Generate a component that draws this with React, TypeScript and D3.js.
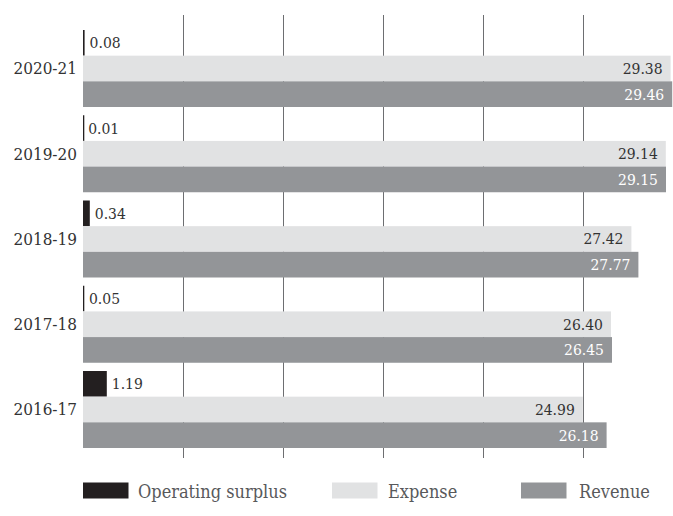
import React from "react";
import * as d3 from "d3";

const years = ["2020-21", "2019-20", "2018-19", "2017-18", "2016-17"];
const surplus = [0.08, 0.01, 0.34, 0.05, 1.19];
const expense = [29.38, 29.14, 27.42, 26.4, 24.99];
const revenue = [29.46, 29.15, 27.77, 26.45, 26.18];
const gridTicks = [5, 10, 15, 20, 25];
const seriesNames = ["Operating surplus", "Expense", "Revenue"];

const W = 673;
const H = 516;
const FONT = "'DejaVu Serif Condensed', 'DejaVu Serif', serif";
const colors: Record<string, string> = {
  "Operating surplus": "#231f20",
  Expense: "#e1e2e3",
  Revenue: "#939598",
};

export default function App() {
  const x = d3.scaleLinear().domain([0, 29.5]).range([83, 673]);
  const y0 = d3.scaleBand<string>().domain(years).range([30, 448]).paddingInner(0.0968).paddingOuter(0);
  const y1 = d3.scaleBand<string>().domain(seriesNames).range([0, y0.bandwidth()]).padding(0);
  const values: Record<string, number[]> = {
    "Operating surplus": surplus,
    Expense: expense,
    Revenue: revenue,
  };
  const legendPos = [
    { sx: 83, tx: 138 },
    { sx: 332, tx: 388 },
    { sx: 521, tx: 579 },
  ];
  return (
    <svg
      width={W}
      height={H}
      style={{ position: "fixed", left: 0, top: 0, background: "#fff" }}
      fontFamily={FONT}
    >
      {gridTicks.map((t) => (
        <line key={t} x1={Math.round(x(t)) + 0.5} x2={Math.round(x(t)) + 0.5} y1={15} y2={458} stroke="#6d6e71" strokeWidth={1} />
      ))}
      {years.map((yr, i) => {
        const gy = y0(yr)!;
        return (
          <g key={yr}>
            {seriesNames.map((s) => {
              const v = values[s][i];
              const by = gy + y1(s)!;
              const bw = Math.max(1.3, x(v) - x(0));
              return (
                <rect key={s} x={x(0)} y={by} width={bw} height={y1.bandwidth()} fill={colors[s]} />
              );
            })}
            <text
              x={x(surplus[i]) + 5}
              y={gy + y1("Operating surplus")! + y1.bandwidth() / 2}
              dy="0.35em"
              fontSize={15.5}
              fill="#333"
            >
              {surplus[i].toFixed(2)}
            </text>
            <text
              x={x(expense[i]) - 8}
              y={gy + y1("Expense")! + y1.bandwidth() / 2}
              dy="0.35em"
              textAnchor="end"
              fontSize={15.5}
              fill="#333"
            >
              {expense[i].toFixed(2)}
            </text>
            <text
              x={x(revenue[i]) - 8}
              y={gy + y1("Revenue")! + y1.bandwidth() / 2}
              dy="0.35em"
              textAnchor="end"
              fontSize={15.5}
              fill="#fff"
            >
              {revenue[i].toFixed(2)}
            </text>
            <text
              x={77}
              y={gy + y1("Expense")! + y1.bandwidth() / 2}
              dy="0.35em"
              textAnchor="end"
              fontSize={17}
              fill="#333"
            >
              {yr}
            </text>
          </g>
        );
      })}
      {seriesNames.map((s, i) => (
        <g key={s}>
          <rect x={legendPos[i].sx} y={482.5} width={45.5} height={16} fill={colors[s]} />
          <text x={legendPos[i].tx} y={498} fontSize={18} fill="#58595b">
            {s}
          </text>
        </g>
      ))}
    </svg>
  );
}
